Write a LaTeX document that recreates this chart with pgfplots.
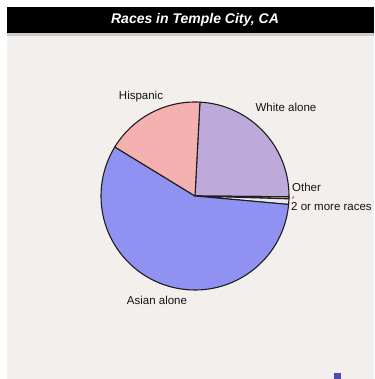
\documentclass[border=0pt]{standalone}
\usepackage{pgfplots}
\usepackage{pgfplotstable}
\pgfplotsset{compat=1.18}
\usepackage{fontspec}
\setmainfont{Liberation Sans}
\definecolor{bggrey}{HTML}{F2EFEC}
\definecolor{slice0}{HTML}{BEA9DB}
\definecolor{slice1}{HTML}{E8D49E}
\definecolor{slice2}{HTML}{EEE8F6}
\definecolor{slice3}{HTML}{8F92F0}
\definecolor{slice4}{HTML}{F5B1B0}
\definecolor{outl}{HTML}{1E1E1E}
\pgfplotstableread[col sep=comma]{
label,value
White alone,24.3
Other,0.35
2 or more races,0.95
Asian alone,57.3
Hispanic,17.1
}\racedata
\begin{document}
\begin{tikzpicture}
\xdef\cum{87}%
\foreach \i in {0,...,4}{%
  \pgfplotstablegetelem{\i}{value}\of\racedata
  \let\v\pgfplotsretval
  \pgfmathsetmacro\e{\cum-3.6*\v}%
  \expandafter\xdef\csname sA\i\endcsname{\cum}%
  \expandafter\xdef\csname sE\i\endcsname{\e}%
  \xdef\cum{\e}%
}
\begin{axis}[
  width=374pt, height=379pt, scale only axis,
  xmin=0, xmax=374, ymin=0, ymax=379,
  hide axis, clip=false,
]
\fill[white] (axis cs:0,0) rectangle (axis cs:374,379);
\fill[bggrey] (axis cs:7,0) rectangle (axis cs:374,343);
\fill[black!20] (axis cs:7,343) rectangle (axis cs:374,346);
\fill[black] (axis cs:7,346) rectangle (axis cs:374,372);
\node[text=white, font=\fontsize{14}{16}\selectfont\bfseries\itshape] at (axis cs:195,359) {Races in Temple City, CA};
\pgfplotsinvokeforeach{0,...,4}{
  \draw[fill=slice#1, draw=outl, line width=1.1pt, line join=round]
    (axis cs:195,183) -- ++(\csname sA#1\endcsname:94pt)
    arc[start angle=\csname sA#1\endcsname, end angle=\csname sE#1\endcsname, radius=94pt] -- cycle;
}
\draw[red!80, line width=0.8pt] (axis cs:292,180.5) -- (axis cs:294,182.5);
\begin{scope}[every node/.style={font=\fontsize{11.5}{13}\selectfont, text=black!92, inner sep=0pt}]
\node at (axis cs:141,282) {Hispanic};
\node at (axis cs:286,272) {White alone};
\node[anchor=west] at (axis cs:292,192) {Other};
\node[anchor=west] at (axis cs:291,172) {2 or more races};
\node at (axis cs:157,79) {Asian alone};
\end{scope}
\fill[blue!60!black!70!white] (axis cs:334,0) rectangle (axis cs:341,6);
\end{axis}
\end{tikzpicture}
\end{document}
